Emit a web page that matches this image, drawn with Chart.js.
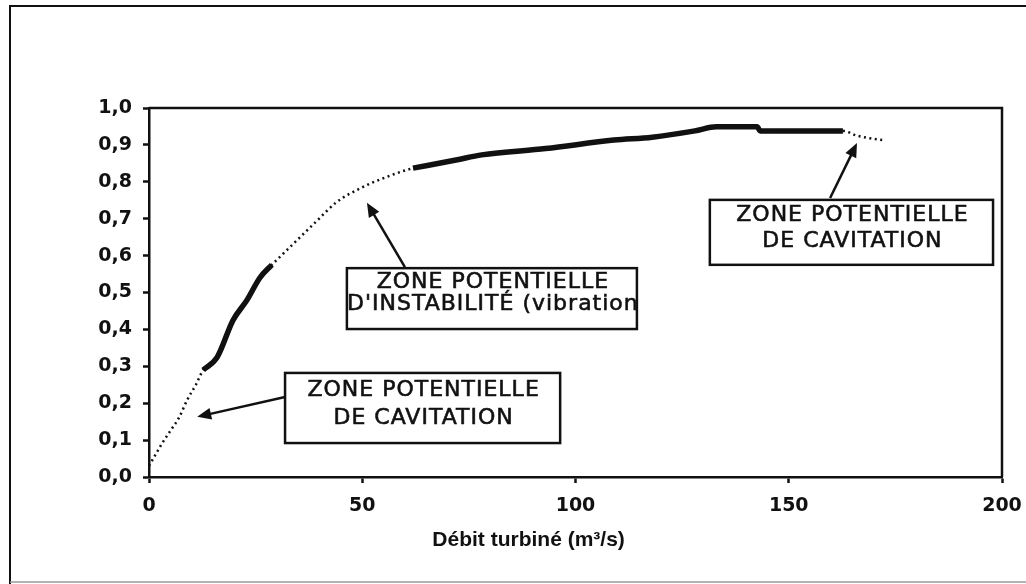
<!DOCTYPE html>
<html>
<head>
<meta charset="utf-8">
<script src="https://cdn.jsdelivr.net/npm/chart.js@4.4.1/dist/chart.umd.min.js"></script>
<style>
  html, body { margin: 0; padding: 0; background: #fff; }
  canvas { display: block; }
</style>
</head>
<body>
<canvas id="turbineChart" width="1026" height="584"></canvas>
<script>
// flow (m3/s) and efficiency
const flowValues = [0, 1.5, 3, 5, 7, 9, 11, 12.7, 16, 19.7, 23, 26, 28.8, 31, 35, 39, 44, 50, 55, 61.9, 72, 78, 93, 109, 118, 128, 133, 142.6, 143.3, 152, 162.7, 166, 169, 172];
const effValues  = [0.03, 0.06, 0.09, 0.125, 0.16, 0.21, 0.25, 0.29, 0.325, 0.425, 0.48, 0.54, 0.575, 0.6, 0.645, 0.69, 0.745, 0.785, 0.81, 0.837, 0.859, 0.873, 0.89, 0.913, 0.921, 0.938, 0.949, 0.949, 0.938, 0.938, 0.938, 0.925, 0.918, 0.913];

// stretches of the curve drawn as a thick line (normal operation)
const thickRanges = [[12.7, 28.8], [61.9, 162.7]];

const xTicks = [0, 50, 100, 150, 200];
const xTitle = "Débit turbiné (m³/s)";
const xTitleAt = 89; // title centred under this flow value

// callout boxes, in data units: [q left, q right, eff top, eff bottom]
const boxes = [
    { rect: [31.9, 96.4, 0.282, 0.092], lines: ["ZONE POTENTIELLE", "DE CAVITATION"], lineEff: [0.236, 0.158], arrow: [31.9, 0.217, 11.3, 0.163] },
    { rect: [46.4, 114.4, 0.566, 0.401], lines: ["ZONE POTENTIELLE", "D'INSTABILITÉ (vibration"], lineEff: [0.529, 0.468], arrow: [60, 0.569, 51.1, 0.743] },
    { rect: [131.5, 197.9, 0.751, 0.575], lines: ["ZONE POTENTIELLE", "DE CAVITATION"], lineEff: [0.71, 0.64], arrow: [159.7, 0.756, 166, 0.905] }
];

const dottedData = flowValues.map((q, i) => ({ x: q, y: effValues[i] }));
const thickData = [];
thickRanges.forEach((r, k) => {
    if (k > 0) thickData.push({ x: r[0], y: null });
    flowValues.forEach((q, i) => {
        if (q >= r[0] && q <= r[1]) thickData.push({ x: q, y: effValues[i] });
    });
});

const framePlugin = {
    id: "frame",
    beforeDraw(chart) {
        const ctx = chart.ctx;
        ctx.save();
        ctx.fillStyle = "#fff";
        ctx.fillRect(0, 0, chart.width, chart.height);
        ctx.strokeStyle = "#111";
        ctx.lineWidth = 2;
        ctx.beginPath();
        ctx.moveTo(chart.width, 6);
        ctx.lineTo(10, 6);
        ctx.lineTo(10, chart.height);
        ctx.stroke();
        ctx.strokeStyle = "#999";
        ctx.lineWidth = 1.5;
        ctx.beginPath();
        ctx.moveTo(10, chart.height - 2);
        ctx.lineTo(chart.width, chart.height - 2);
        ctx.stroke();
        ctx.restore();
    },
    afterDatasetsDraw(chart) {
        const ctx = chart.ctx;
        const a = chart.chartArea;
        ctx.save();
        ctx.strokeStyle = "#111";
        ctx.lineWidth = 2.5;
        ctx.beginPath();
        ctx.moveTo(a.left, a.top);
        ctx.lineTo(a.right, a.top);
        ctx.lineTo(a.right, a.bottom);
        ctx.stroke();

        // axis title
        ctx.fillStyle = "#111";
        ctx.font = "bold 21px Arial, 'Liberation Sans'";
        ctx.textAlign = "center";
        ctx.textBaseline = "middle";
        ctx.fillText(xTitle, chart.scales.x.getPixelForValue(xTitleAt), a.bottom + 63);
        ctx.restore();
    }
};

const calloutPlugin = {
    id: "callouts",
    afterDraw(chart) {
        const ctx = chart.ctx;
        const sx = chart.scales.x, sy = chart.scales.y;
        ctx.save();
        boxes.forEach(b => {
            const l = sx.getPixelForValue(b.rect[0]);
            const r = sx.getPixelForValue(b.rect[1]);
            const t = sy.getPixelForValue(b.rect[2]);
            const bt = sy.getPixelForValue(b.rect[3]);
            ctx.fillStyle = "#fff";
            ctx.fillRect(l, t, r - l, bt - t);
            ctx.strokeStyle = "#111";
            ctx.lineWidth = 2.5;
            ctx.strokeRect(l, t, r - l, bt - t);

            ctx.fillStyle = "#111";
            ctx.font = "22px 'DejaVu Sans'";
            ctx.letterSpacing = "1px";
            ctx.textAlign = "center";
            ctx.textBaseline = "middle";
            ctx.lineWidth = 0.6;
            b.lines.forEach((txt, i) => {
                const ty = sy.getPixelForValue(b.lineEff[i]);
                ctx.fillText(txt, (l + r) / 2 + 1, ty);
                ctx.strokeText(txt, (l + r) / 2 + 1, ty);
            });
            ctx.letterSpacing = "0px";

            // arrow
            const x0 = sx.getPixelForValue(b.arrow[0]), y0 = sy.getPixelForValue(b.arrow[1]);
            const x1 = sx.getPixelForValue(b.arrow[2]), y1 = sy.getPixelForValue(b.arrow[3]);
            const ang = Math.atan2(y1 - y0, x1 - x0);
            const hl = 14, hw = 6;
            ctx.lineWidth = 2.5;
            ctx.beginPath();
            ctx.moveTo(x0, y0);
            ctx.lineTo(x1 - Math.cos(ang) * hl * 0.8, y1 - Math.sin(ang) * hl * 0.8);
            ctx.stroke();
            ctx.beginPath();
            ctx.moveTo(x1, y1);
            ctx.lineTo(x1 - Math.cos(ang) * hl - Math.sin(ang) * hw, y1 - Math.sin(ang) * hl + Math.cos(ang) * hw);
            ctx.lineTo(x1 - Math.cos(ang) * hl + Math.sin(ang) * hw, y1 - Math.sin(ang) * hl - Math.cos(ang) * hw);
            ctx.closePath();
            ctx.fill();
        });
        ctx.restore();
    }
};

const ctx = document.getElementById("turbineChart").getContext("2d");

new Chart(ctx, {
    type: "scatter",
    data: {
        datasets: [
            {
                label: "zones",
                data: dottedData,
                showLine: true,
                borderColor: "#111",
                borderWidth: 2.5,
                borderDash: [2, 3.5],
                pointRadius: 0,
                cubicInterpolationMode: "monotone"
            },
            {
                label: "exploitation",
                data: thickData,
                showLine: true,
                spanGaps: false,
                borderColor: "#111",
                borderWidth: 5.5,
                pointRadius: 0,
                cubicInterpolationMode: "monotone"
            }
        ]
    },
    options: {
        responsive: false,
        animation: false,
        devicePixelRatio: 1,
        layout: { padding: { left: 0, top: 108, right: 24, bottom: 0 } },
        plugins: {
            legend: { display: false },
            tooltip: { enabled: false }
        },
        scales: {
            x: {
                type: "linear",
                min: 0,
                max: 200,
                afterBuildTicks: scale => { scale.ticks = xTicks.map(v => ({ value: v })); },
                afterFit: scale => {
                    scale.height = 107;
                    scale.paddingLeft = 0;
                    scale.paddingRight = 0;
                },
                grid: { drawOnChartArea: false, drawTicks: true, tickLength: 6, tickWidth: 2.5, tickColor: "#111" },
                border: { color: "#111", width: 2.5 },
                ticks: {
                    color: "#111",
                    padding: 12,
                    font: { family: "'DejaVu Sans'", weight: "bold", size: 19 }
                }
            },
            y: {
                min: 0,
                max: 1,
                afterFit: scale => { scale.width = 149; },
                grid: { drawOnChartArea: false, drawTicks: true, tickLength: 6, tickWidth: 2.5, tickColor: "#111" },
                border: { color: "#111", width: 2.5 },
                ticks: {
                    stepSize: 0.1,
                    color: "#111",
                    padding: 11,
                    font: { family: "'DejaVu Sans'", weight: "bold", size: 19 },
                    callback: v => v.toFixed(1).replace(".", ",")
                }
            }
        }
    },
    plugins: [framePlugin, calloutPlugin]
});
</script>
</body>
</html>
